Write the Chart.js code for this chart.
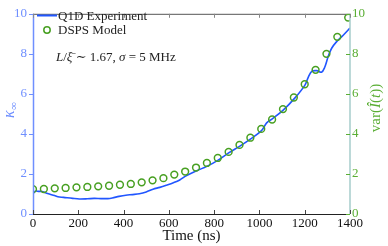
<!DOCTYPE html>
<html>
<head>
<meta charset="utf-8">
<script src="https://cdn.jsdelivr.net/npm/chart.js@4.4.1/dist/chart.umd.min.js"></script>
<style>
  html, body { margin: 0; padding: 0; background: #fff; }
  #wrap { width: 388px; height: 246px; }
</style>
</head>
<body>
<div id="wrap"><canvas id="canvas" width="388" height="246"></canvas></div>
<script>
// Q1D experiment trace (time in ns, kappa_inf)
var expTimes = [0, 10, 25, 40, 55, 75, 95, 110, 135, 175, 205, 240, 270, 300, 330, 350, 380, 410, 440, 470,
  500, 530, 560, 590, 620, 648, 672, 720, 768, 816, 864, 912, 960, 1008, 1032, 1058, 1105, 1157, 1201,
  1216, 1231, 1253, 1274, 1288, 1304, 1319, 1341, 1370, 1400];
var expValues = [1.00, 1.14, 1.13, 1.12, 1.06, 0.99, 0.92, 0.86, 0.83, 0.78, 0.75, 0.76, 0.78, 0.77, 0.77, 0.80, 0.88, 0.94, 0.97, 1.01,
  1.10, 1.24, 1.33, 1.44, 1.56, 1.70, 1.88, 2.15, 2.38, 2.68, 3.05, 3.38, 3.74, 4.15, 4.55, 4.76, 5.19, 5.80, 6.44,
  6.84, 7.12, 7.16, 7.08, 7.32, 7.88, 8.28, 8.61, 8.93, 9.29];

// DSPS model points
var modelTimes = [0, 48, 96, 144, 192, 240, 288, 336, 384, 432, 480, 528, 576, 624, 672,
  720, 768, 816, 864, 912, 960, 1008, 1056, 1104, 1152, 1200, 1248, 1296, 1344, 1392];
var modelValues = [1.24, 1.25, 1.28, 1.30, 1.33, 1.35, 1.38, 1.41, 1.46, 1.50, 1.58, 1.68, 1.79, 1.97, 2.12,
  2.32, 2.55, 2.80, 3.10, 3.45, 3.81, 4.25, 4.72, 5.24, 5.82, 6.48, 7.20, 8.00, 8.85, 9.81];

var xTicks = [0, 200, 400, 600, 800, 1000, 1200, 1400];
var yTicks = [0, 2, 4, 6, 8, 10];

var BLUE = '#2156ff';
var BLUE_AXIS = '#6f8fff';
var GREEN = '#48a022';
var GREEN_TXT = '#5aae34';
var SERIF = '"Liberation Serif", "DejaVu Serif", serif';

function toPoints(xs, ys) {
  var out = [];
  for (var i = 0; i < xs.length; i++) out.push({x: xs[i], y: ys[i]});
  return out;
}

function plainLabel(v) { return String(v); }

// draws a run of [style, text] pieces starting at x
function drawParts(ctx, parts, x, y, size) {
  parts.forEach(function(p) {
    ctx.font = (p[0] ? p[0] + ' ' : '') + size + 'px ' + SERIF;
    ctx.fillText(p[1], x, y);
    x += ctx.measureText(p[1]).width;
  });
  return x;
}

// draws ticks, legend, annotation and the axis titles
var extras = {
  id: 'extras',
  afterDraw: function(chart) {
    var ctx = chart.ctx;
    var a = chart.chartArea;
    var xs = chart.scales.x, yl = chart.scales.y, yr = chart.scales.y2;
    ctx.save();
    // frame
    ctx.lineWidth = 1;
    ctx.strokeStyle = '#555';
    ctx.beginPath(); ctx.moveTo(a.left, a.top + 0.5); ctx.lineTo(a.right, a.top + 0.5); ctx.stroke();
    ctx.strokeStyle = '#222';
    ctx.beginPath(); ctx.moveTo(a.left, a.bottom + 0.5); ctx.lineTo(a.right, a.bottom + 0.5); ctx.stroke();
    ctx.strokeStyle = BLUE_AXIS; ctx.lineWidth = 1.5;
    ctx.beginPath(); ctx.moveTo(a.left + 0.5, a.top); ctx.lineTo(a.left + 0.5, a.bottom); ctx.stroke();
    ctx.strokeStyle = '#a6cccb';
    ctx.beginPath(); ctx.moveTo(a.right, a.top); ctx.lineTo(a.right, a.bottom); ctx.stroke();

    ctx.lineWidth = 1;
    xTicks.forEach(function(v) {
      var px = Math.round(xs.getPixelForValue(v)) + 0.5;
      ctx.strokeStyle = '#888';
      ctx.beginPath(); ctx.moveTo(px, a.top); ctx.lineTo(px, a.top + 4); ctx.stroke();
      ctx.strokeStyle = '#444';
      ctx.beginPath(); ctx.moveTo(px, a.bottom); ctx.lineTo(px, a.bottom - 4); ctx.stroke();
    });
    yTicks.forEach(function(v) {
      var py = Math.round(yl.getPixelForValue(v)) + 0.5;
      ctx.strokeStyle = BLUE_AXIS;
      ctx.beginPath(); ctx.moveTo(a.left - 4, py); ctx.lineTo(a.left, py); ctx.stroke();
      var pr = Math.round(yr.getPixelForValue(v)) + 0.5;
      ctx.strokeStyle = GREEN_TXT;
      ctx.beginPath(); ctx.moveTo(a.right - 4, pr); ctx.lineTo(a.right, pr); ctx.stroke();
    });

    // legend
    ctx.font = '13px ' + SERIF;
    ctx.textBaseline = 'middle';
    ctx.fillStyle = '#222';
    ctx.strokeStyle = BLUE; ctx.lineWidth = 2;
    ctx.beginPath(); ctx.moveTo(37, 15.5); ctx.lineTo(57, 15.5); ctx.stroke();
    ctx.fillText('Q1D Experiment', 58, 16.5);
    ctx.strokeStyle = GREEN; ctx.lineWidth = 1.5;
    ctx.beginPath(); ctx.arc(47, 30, 3.2, 0, Math.PI * 2); ctx.stroke();
    ctx.fillText('DSPS Model', 58, 31);

    // annotation
    drawParts(ctx, [
      ['italic', 'L'], ['', '/'], ['italic', 'ξ\u0304'], ['', ' ∼ 1.67, '],
      ['italic', 'σ'], ['', ' = 5 MHz']
    ], 56, 58, 13);

    ctx.textBaseline = 'alphabetic';
    // left axis title kappa_inf
    ctx.save();
    ctx.translate(14, 110);
    ctx.rotate(-Math.PI / 2);
    ctx.fillStyle = BLUE_AXIS;
    ctx.font = 'italic 16px ' + SERIF;
    ctx.fillText('κ', -8, 0);
    ctx.font = '11px ' + SERIF;
    ctx.fillText('∞', 0, 3);
    ctx.restore();

    // right axis title var(I(t))
    ctx.save();
    ctx.translate(380, 108);
    ctx.rotate(-Math.PI / 2);
    ctx.fillStyle = GREEN_TXT;
    ctx.textAlign = 'left';
    var w = 0;
    ctx.font = '15px ' + SERIF; w += ctx.measureText('var(').width + ctx.measureText('(').width + ctx.measureText('))').width;
    ctx.font = 'italic 15px ' + SERIF; w += ctx.measureText('Î').width + ctx.measureText('t').width;
    drawParts(ctx, [['', 'var('], ['italic', 'Î'], ['', '('], ['italic', 't'], ['', '))']], -w / 2, 0, 15);
    ctx.restore();
    ctx.restore();
  }
};

var config = {
  type: 'scatter',
  data: {
    datasets: [{
      label: 'Q1D Experiment',
      type: 'line',
      data: toPoints(expTimes, expValues),
      borderColor: BLUE,
      borderWidth: 1.6,
      pointRadius: 0,
      tension: 0.35,
      fill: false,
      yAxisID: 'y',
      order: 2
    }, {
      label: 'DSPS Model',
      data: toPoints(modelTimes, modelValues),
      borderColor: GREEN,
      backgroundColor: 'rgba(0,0,0,0)',
      borderWidth: 1.5,
      pointRadius: 3.4,
      yAxisID: 'y2',
      order: 1
    }]
  },
  options: {
    responsive: false,
    animation: false,
    layout: { padding: { top: 6, right: 0, left: 0, bottom: 0 } },
    plugins: { legend: { display: false }, tooltip: { enabled: false } },
    scales: {
      x: {
        type: 'linear', min: 0, max: 1400,
        afterBuildTicks: function(s) { s.ticks = xTicks.map(function(v) { return {value: v}; }); },
        afterFit: function(s) { s.height = 32; },
        border: { display: false },
        grid: { display: false, drawTicks: false },
        ticks: { color: '#111', padding: 2, callback: plainLabel, font: { family: SERIF, size: 13 } },
        title: { display: true, text: 'Time (ns)', color: '#111', padding: { top: 0, bottom: 1 }, font: { family: SERIF, size: 15 } }
      },
      y: {
        position: 'left', min: 0, max: 10,
        afterBuildTicks: function(s) { s.ticks = yTicks.map(function(v) { return {value: v}; }); },
        afterFit: function(s) { s.width = 33; },
        border: { display: false },
        grid: { display: false, drawTicks: false },
        ticks: { color: BLUE_AXIS, padding: 6, callback: plainLabel, font: { family: SERIF, size: 13 } }
      },
      y2: {
        position: 'right', min: 0, max: 10,
        afterBuildTicks: function(s) { s.ticks = yTicks.map(function(v) { return {value: v}; }); },
        afterFit: function(s) { s.width = 38; },
        border: { display: false },
        grid: { display: false, drawTicks: false },
        ticks: { color: GREEN_TXT, padding: 2, callback: plainLabel, font: { family: SERIF, size: 13 } }
      }
    }
  },
  plugins: [extras]
};

var ctx = document.getElementById('canvas');
window.myChart = new Chart(ctx, config);
</script>
</body>
</html>
